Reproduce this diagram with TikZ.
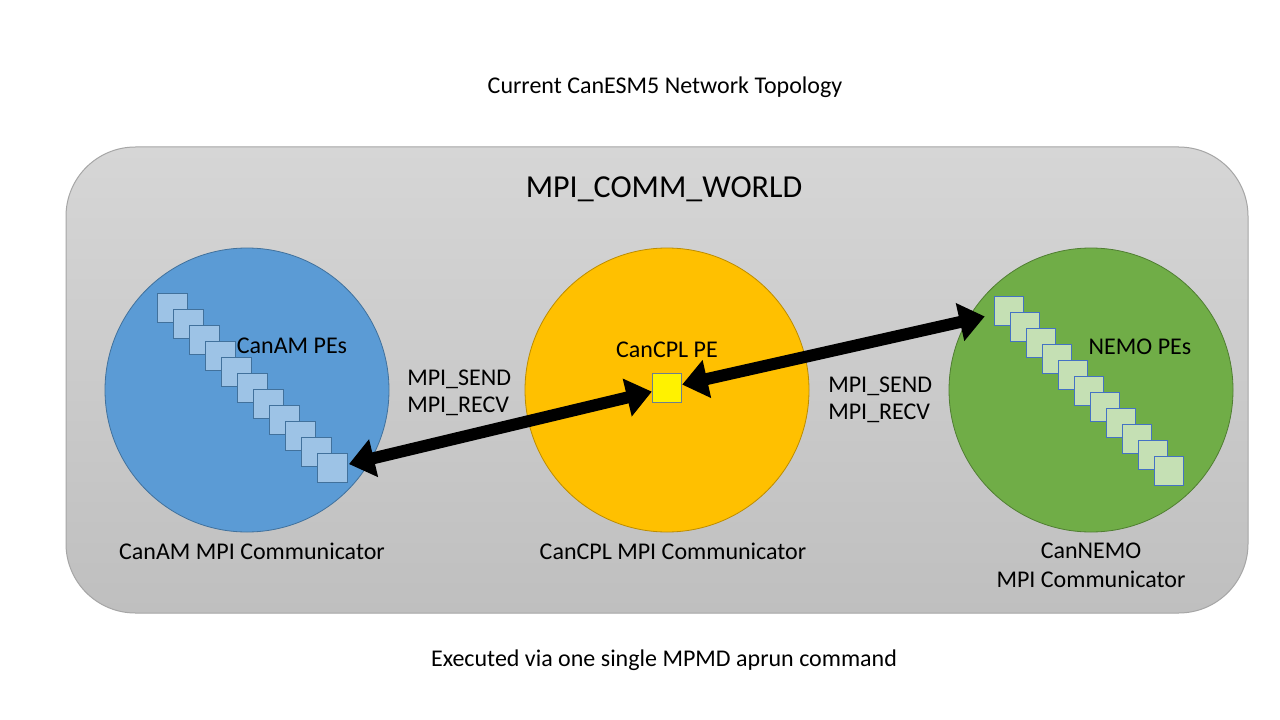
\documentclass[tikz,border=0pt]{standalone}
\usepackage{fontspec}
\setmainfont{Carlito}
\usetikzlibrary{arrows.meta}
\definecolor{frameline}{HTML}{A6A6A6}
\definecolor{bgtop}{HTML}{D6D6D6}
\definecolor{bgbot}{HTML}{BFBFBF}
\definecolor{amfill}{HTML}{5B9BD5}
\definecolor{amline}{HTML}{41719C}
\definecolor{cplfill}{HTML}{FFC000}
\definecolor{cplline}{HTML}{BC8C00}
\definecolor{nemofill}{HTML}{70AD47}
\definecolor{nemoline}{HTML}{507E32}
\definecolor{amsq}{HTML}{9DC3E6}
\definecolor{amsqline}{HTML}{41719C}
\definecolor{nemosq}{HTML}{C5E0B4}
\definecolor{nemosqline}{HTML}{4472C4}
\definecolor{ysqline}{HTML}{6D7F8F}
\tikzset{
  comm/.style={circle, minimum size=213pt, inner sep=0pt, line width=0.6pt},
  pe/.style={rectangle, minimum size=22pt, inner sep=0pt, line width=0.75pt},
  amsquare/.style={pe, fill=amsq, draw=amsqline},
  nemosquare/.style={pe, fill=nemosq, draw=nemosqline},
  lbl/.style={font=\fontsize{18}{20.5}\selectfont, inner sep=0pt, text=black},
  biarrow/.style={line width=9pt, black,
    {Triangle[width=28pt,length=19pt]}-{Triangle[width=28pt,length=19pt]}}
}
\begin{document}
\begin{tikzpicture}[x=0.75pt, y=-0.75pt]
\useasboundingbox (0,0) rectangle (1280,720);
\fill[white] (0,0) rectangle (1280,720);
% world frame
\path[top color=bgtop, bottom color=bgbot, draw=frameline, line width=0.75pt, rounded corners=52pt]
  (66,147) rectangle (1248,613);
\node[lbl] (title) at (665,87) {Current CanESM5 Network Topology};
\node[font=\fontsize{24}{28}\selectfont, inner sep=0pt] (world) at (664,189) {MPI\_COMM\_WORLD};
% communicators
\node[comm, fill=amfill, draw=amline] (am) at (247,390) {};
\node[comm, fill=cplfill, draw=cplline] (cpl) at (667,390) {};
\node[comm, fill=nemofill, draw=nemoline] (nemo) at (1091,390) {};
% CanAM PEs
\foreach \i in {0,...,10} {
  \node[amsquare] (a\i) at ({172.5+16*\i},{308+16*\i}) {};
}
% NEMO PEs
\foreach \i in {0,...,10} {
  \node[nemosquare] (g\i) at ({1009+16*\i},{311+16*\i}) {};
}
% CPL PE
\node[pe, fill=yellow, draw=ysqline] (y) at (667,388) {};
% arrows
\draw[biarrow, shorten <=1pt] (a10) -- (y);
\draw[biarrow, shorten >=7pt] (y) -- (g0);
% labels
\node[lbl] (amlbl) at (292,346) {CanAM PEs};
\node[lbl] (cpllbl) at (667,350) {CanCPL PE};
\node[lbl] (nemolbl) at (1140,347) {NEMO PEs};
\node[lbl, anchor=west, align=left] (lsr) at (407,393) {MPI\_SEND\\MPI\_RECV};
\node[lbl, anchor=west, align=left] (rsr) at (828,400) {MPI\_SEND\\MPI\_RECV};
\node[lbl] (amc) at (252,551) {CanAM MPI Communicator};
\node[lbl] (cplc) at (673,551) {CanCPL MPI Communicator};
\node[lbl, align=center] (nemoc) at (1091,565) {CanNEMO\\[1pt]MPI Communicator};
\node[lbl] (exec) at (664,660) {Executed via one single MPMD aprun command};
\end{tikzpicture}
\end{document}
